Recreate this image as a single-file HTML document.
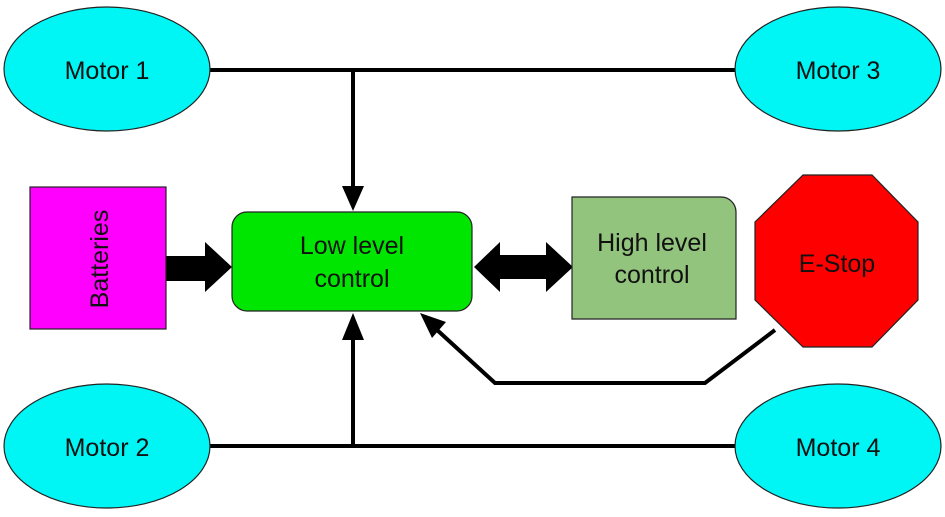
<!DOCTYPE html>
<html><head><meta charset="utf-8"><style>
html,body{margin:0;padding:0;background:#fff;}
svg{display:block;}
text{font-family:"Liberation Sans",Arial,sans-serif;font-size:25px;fill:#111;}
</style></head><body>
<svg width="945" height="517" viewBox="0 0 945 517" xmlns="http://www.w3.org/2000/svg">
<g stroke="#000" stroke-width="4" fill="none">
<line x1="210" y1="70" x2="737" y2="70"/>
<line x1="210" y1="446" x2="737" y2="446"/>
<line x1="353" y1="70" x2="353" y2="188"/>
<line x1="353" y1="446" x2="353" y2="338"/>
<polyline points="775,330 705,383 495,383 436,329"/>
</g>
<polygon points="342,186 364,186 353,211" fill="#000"/>
<polygon points="342,340 364,340 353,313" fill="#000"/>
<polygon points="420,313 446,322 432,338" fill="#000"/>
<polygon points="166,256 205,256 205,242 232,267 205,292 205,281 166,281" fill="#000"/>
<polygon points="474,267 500,242 500,255 546,255 546,242 573,267 546,292 546,279 500,279 500,292" fill="#000"/>
<ellipse cx="107" cy="69" rx="103" ry="62" fill="#00f5f5" stroke="#222" stroke-width="1.2"/>
<ellipse cx="838" cy="69" rx="103" ry="62" fill="#00f5f5" stroke="#222" stroke-width="1.2"/>
<ellipse cx="107" cy="446" rx="103" ry="62" fill="#00f5f5" stroke="#222" stroke-width="1.2"/>
<ellipse cx="838" cy="446" rx="103" ry="62" fill="#00f5f5" stroke="#222" stroke-width="1.2"/>
<rect x="30" y="187" width="136" height="142" fill="#ff00ff" stroke="#222" stroke-width="1.2"/>
<rect x="232" y="212" width="240" height="99" rx="15" fill="#00e600" stroke="#222" stroke-width="1.2"/>
<path d="M572,197 H721 A15,15 0 0 1 736,212 V319 H572 Z" fill="#93c47d" stroke="#222" stroke-width="1.2"/>
<polygon points="803,175 872,175 918,222 918,300 872,347 803,347 755,300 755,222" fill="#ff0000" stroke="#222" stroke-width="1.2"/>
<text x="107" y="79" text-anchor="middle">Motor 1</text>
<text x="838" y="79" text-anchor="middle">Motor 3</text>
<text x="107" y="456" text-anchor="middle">Motor 2</text>
<text x="838" y="456" text-anchor="middle">Motor 4</text>
<text x="352" y="254" text-anchor="middle">Low level</text>
<text x="352" y="287" text-anchor="middle">control</text>
<text x="652" y="251" text-anchor="middle">High level</text>
<text x="652" y="283" text-anchor="middle">control</text>
<text x="837" y="272" text-anchor="middle">E-Stop</text>
<text transform="translate(108,259) rotate(-90)" text-anchor="middle">Batteries</text>
</svg>
</body></html>
